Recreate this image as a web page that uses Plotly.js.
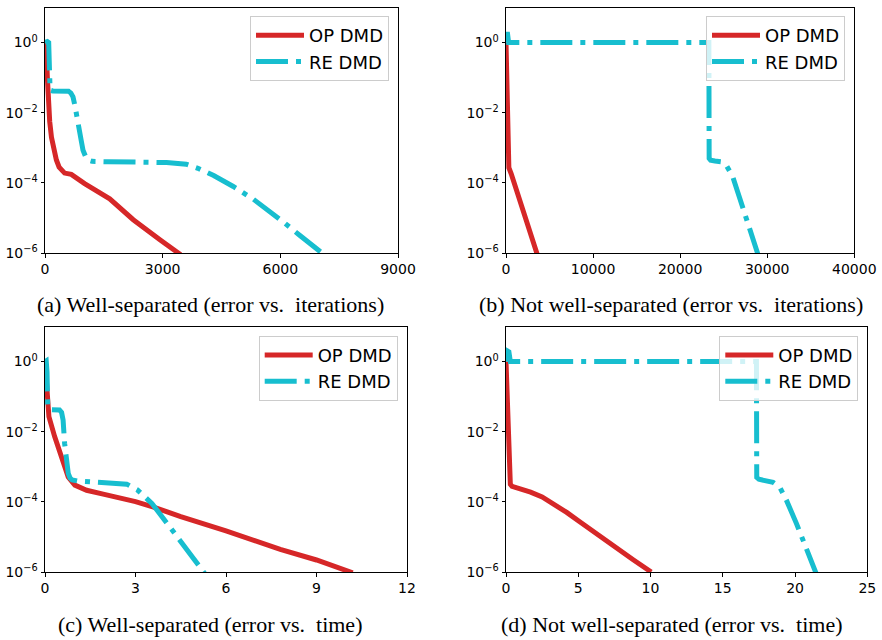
<!DOCTYPE html>
<html>
<head>
<meta charset="utf-8">
<script src="https://cdn.plot.ly/plotly-3.0.1.min.js"></script>
<style>
  html, body { margin: 0; padding: 0; background: #ffffff; }
  #chart { width: 882px; height: 640px; }
</style>
</head>
<body>
<div id="chart"></div>
<script>
// ---- (a) well-separated, error vs. iterations ----
const iterA_op = [0, 35, 60, 80, 120, 165, 230, 290, 360, 420, 500, 670, 1010, 1650, 2250, 2930, 3460];
const errA_op  = [1, 0.562, 0.1, 0.02, 0.00562, 0.002, 7.9e-4, 4.5e-4, 2.8e-4, 2.24e-4, 1.9e-4, 1.74e-4, 9.5e-5, 3.5e-5, 8.9e-6, 2.4e-6, 8.9e-7];
const iterA_re = [0, 60, 94, 100, 130, 200, 400, 600, 660, 714, 760, 799, 840, 884, 925, 969, 1010, 1054, 1100, 1200, 1600, 2200, 2700, 3100, 3600, 3900, 4300, 4800, 5300, 5700, 6080, 6500, 7060];
const errA_re  = [1, 1.07, 1, 0.063, 0.0437, 0.0417, 0.0417, 0.0407, 0.0363, 0.0282, 0.0166, 0.0085, 0.00525, 0.00316, 0.00158, 8.5e-4, 6.3e-4, 5.0e-4, 4.4e-4, 4.1e-4, 4.0e-4, 4.0e-4, 3.9e-4, 3.8e-4, 3.4e-4, 2.6e-4, 1.62e-4, 7.9e-5, 3.5e-5, 1.66e-5, 7.6e-6, 3.16e-6, 1.0e-6];

// ---- (b) not well-separated, error vs. iterations ----
const iterB_op = [0, 250, 330, 600, 1000, 1400, 2150, 2900, 3600];
const errB_op  = [1, 4.0e-4, 2.7e-4, 1.82e-4, 8.9e-5, 5.0e-5, 1.15e-5, 2.95e-6, 8.9e-7];
const iterB_re = [0, 150, 300, 23300, 23330, 23500, 24000, 24700, 25300, 25700, 26050, 26600, 27200, 27970, 28740, 28950];
const errB_re  = [1, 2.0, 1, 1, 5.0e-4, 4.4e-4, 4.2e-4, 4.0e-4, 3.16e-4, 2.2e-4, 1.48e-4, 5.6e-5, 2.0e-5, 5.5e-6, 1.17e-6, 8.9e-7];

// ---- (c) well-separated, error vs. time ----
const timeC_op = [0, 0.07, 0.13, 0.32, 0.54, 0.77, 0.99, 1.38, 1.93, 3.0, 3.6, 4.5, 6.0, 7.8, 9.0, 10.2];
const errC_op  = [1, 0.155, 0.0269, 0.00724, 0.00195, 5.1e-4, 3.0e-4, 2.14e-4, 1.66e-4, 1.02e-4, 7.1e-5, 3.8e-5, 1.48e-5, 4.4e-6, 2.2e-6, 9.5e-7];
const timeC_re = [0, 0.04, 0.067, 0.09, 0.15, 0.3, 0.48, 0.55, 0.6, 0.65, 0.71, 0.77, 0.83, 0.9, 1.1, 1.78, 2.27, 2.71, 3.06, 3.55, 4.22, 5.0, 5.3];
const errC_re  = [1, 1.05, 0.5, 0.056, 0.0427, 0.0417, 0.0417, 0.0355, 0.0214, 0.00468, 0.00155, 6.5e-4, 4.8e-4, 4.2e-4, 3.9e-4, 3.7e-4, 3.55e-4, 3.2e-4, 2.2e-4, 8.9e-5, 1.55e-5, 1.95e-6, 8.9e-7];

// ---- (d) not well-separated, error vs. time ----
const timeD_op = [0, 0.3, 0.42, 0.9, 1.7, 2.5, 3.3, 4.2, 5.1, 6.3, 7.5, 8.8, 10.05];
const errD_op  = [1, 3.16e-4, 2.75e-4, 2.4e-4, 1.9e-4, 1.38e-4, 8.9e-5, 5.0e-5, 2.7e-5, 1.17e-5, 5.1e-6, 2.24e-6, 1.0e-6];
const timeD_re = [0, 0.1, 0.2, 0.3, 17.33, 17.35, 17.5, 17.79, 18.48, 18.95, 19.41, 20.1, 20.8, 21.37, 21.47];
const errD_re  = [1, 2.0, 1.9, 1, 1, 5.0e-4, 4.4e-4, 4.1e-4, 3.6e-4, 2.6e-4, 1.1e-4, 2.4e-5, 4.6e-6, 1.12e-6, 8.9e-7];

// ---- axis ticks and captions ----
const xTicksA = [0, 3000, 6000, 9000];
const xTicksB = [0, 10000, 20000, 30000, 40000];
const xTicksC = [0, 3, 6, 9, 12];
const xTicksD = [0, 5, 10, 15, 20, 25];
const yTickVals = [1, 1e-2, 1e-4, 1e-6];
const yTickText = ['10<sup>0</sup>', '10<sup>\u22122</sup>', '10<sup>\u22124</sup>', '10<sup>\u22126</sup>'];
const seriesNames = ['OP DMD', 'RE DMD'];
const captions = [
  '(a) Well-separated (error vs.  iterations)',
  '(b) Not well-separated (error vs.  iterations)',
  '(c) Well-separated (error vs.  time)',
  '(d) Not well-separated (error vs.  time)'
];

const RED = '#d62728';
const CYAN = '#17becf';
const DASHDOT = '32px,8px,5px,8px';
const W = 882, H = 640;

// panel boxes in pixels: [left, right, top, bottom]
const boxes = [
  [45, 398, 7.5, 253],
  [506, 854.3, 7.5, 253],
  [45, 407, 326.5, 572],
  [506, 867.3, 326.5, 572]
];
const legendCorners = [[389, 16], [845, 16], [397.7, 335.7], [858.3, 335.7]];
const captionCenters = [[210, 304], [671, 304], [210, 624], [671, 624]];

const panels = [
  { op: [iterA_op, errA_op], re: [iterA_re, errA_re], range: [0, 9000], ticks: xTicksA },
  { op: [iterB_op, errB_op], re: [iterB_re, errB_re], range: [0, 40000], ticks: xTicksB },
  { op: [timeC_op, errC_op], re: [timeC_re, errC_re], range: [0, 12], ticks: xTicksC },
  { op: [timeD_op, errD_op], re: [timeD_re, errD_re], range: [0, 25], ticks: xTicksD }
];

const tickFont = { family: 'DejaVu Sans', size: 14, color: '#000000' };
const traces = [];
const layout = {
  width: W, height: H,
  margin: { l: 0, r: 0, t: 0, b: 0 },
  paper_bgcolor: '#ffffff',
  plot_bgcolor: '#ffffff',
  showlegend: true,
  annotations: []
};

panels.forEach((p, i) => {
  const n = i === 0 ? '' : String(i + 1);
  const xa = 'x' + n, ya = 'y' + n;
  const lg = 'legend' + n;
  const b = boxes[i];

  traces.push({
    x: p.op[0], y: p.op[1], xaxis: xa, yaxis: ya, legend: lg,
    name: seriesNames[0], mode: 'lines', hoverinfo: 'skip',
    line: { color: RED, width: 5 }
  });
  traces.push({
    x: p.re[0], y: p.re[1], xaxis: xa, yaxis: ya, legend: lg,
    name: seriesNames[1], mode: 'lines', hoverinfo: 'skip',
    line: { color: CYAN, width: 5, dash: DASHDOT }
  });

  layout['xaxis' + n] = {
    domain: [b[0] / W, b[1] / W], anchor: ya,
    range: p.range, tickmode: 'array', tickvals: p.ticks,
    ticktext: p.ticks.map(String),
    ticks: 'outside', ticklen: 3.5, tickwidth: 1, tickcolor: '#000',
    showline: true, mirror: true, linecolor: '#000', linewidth: 1,
    showgrid: false, zeroline: false, tickfont: tickFont, fixedrange: true
  };
  layout['yaxis' + n] = {
    domain: [1 - b[3] / H, 1 - b[2] / H], anchor: xa,
    type: 'log', range: [-6, 1], tickmode: 'array',
    tickvals: yTickVals, ticktext: yTickText,
    ticks: 'outside', ticklen: 3.5, tickwidth: 1, tickcolor: '#000',
    showline: true, mirror: true, linecolor: '#000', linewidth: 1,
    showgrid: false, zeroline: false, tickfont: tickFont, fixedrange: true
  };
  layout[lg] = {
    x: legendCorners[i][0] / W, y: 1 - legendCorners[i][1] / H,
    xanchor: 'right', yanchor: 'top',
    bgcolor: 'rgba(255,255,255,0.8)', bordercolor: '#cccccc', borderwidth: 1,
    font: { family: 'DejaVu Sans', size: 18, color: '#000' },
    itemwidth: 48, tracegroupgap: 0
  };
  layout.annotations.push({
    xref: 'paper', yref: 'paper',
    x: captionCenters[i][0] / W, y: 1 - captionCenters[i][1] / H,
    xanchor: 'center', yanchor: 'middle', showarrow: false,
    text: captions[i],
    font: { family: 'Liberation Serif', size: 22, color: '#000' }
  });
});

Plotly.newPlot('chart', traces, layout, { staticPlot: true, displayModeBar: false });
</script>
</body>
</html>
